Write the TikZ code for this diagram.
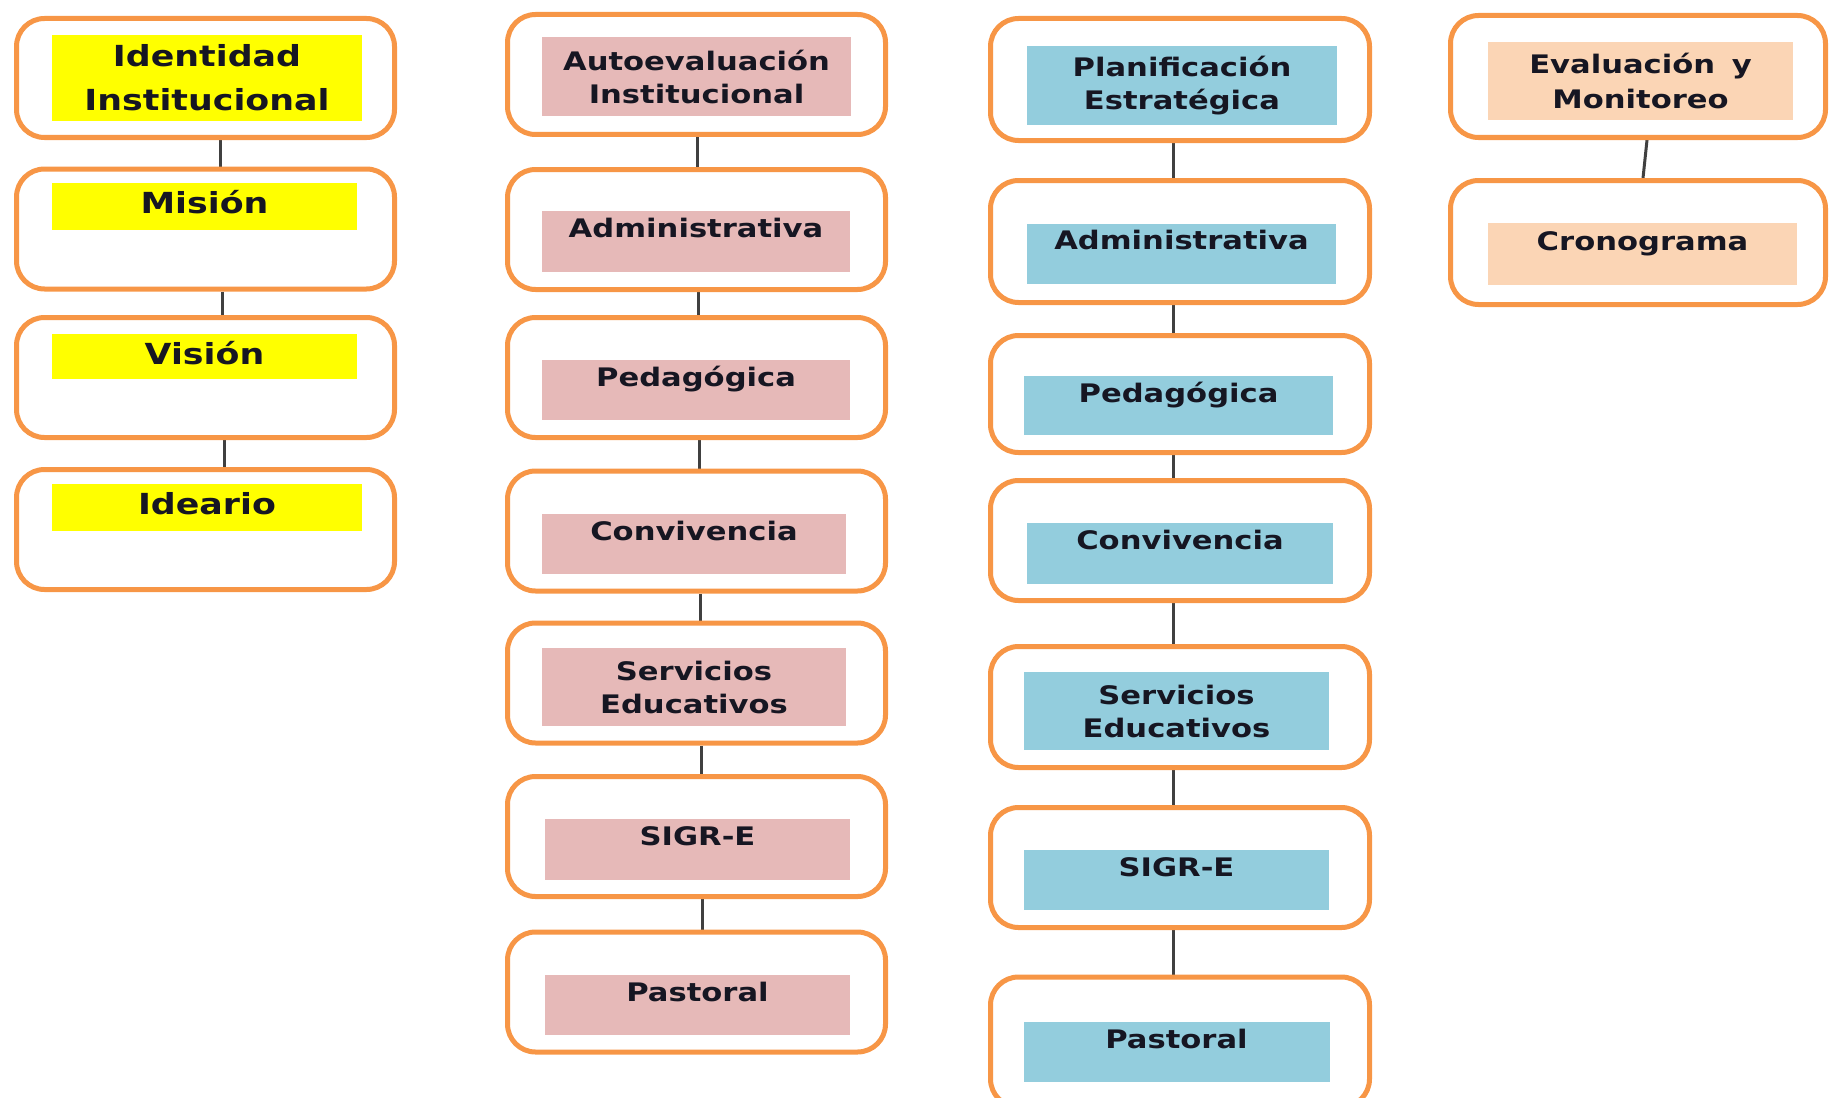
\documentclass[tikz,border=0pt]{standalone}
\usepackage{fontspec}
\newfontfamily\lbl{DejaVu Sans}[FakeStretch=1.2]
\usetikzlibrary{backgrounds}
\definecolor{orng}{HTML}{F79646}
\definecolor{ylw}{HTML}{FFFF00}
\definecolor{pnk}{HTML}{E6B9B8}
\definecolor{blu}{HTML}{93CDDD}
\definecolor{pch}{HTML}{FBD5B5}
\definecolor{ink}{HTML}{161622}
\definecolor{lnk}{HTML}{404040}
\tikzset{
  outer/.style={draw=orng, line width=5pt, rounded corners=28pt, fill=white, minimum height=120pt, inner sep=0pt},
  labbase/.style={inner xsep=0pt, inner ysep=0pt, text=ink},
  bigfont/.style={font=\lbl\bfseries\fontsize{29}{44}\selectfont},
  smallfont/.style={font=\lbl\bfseries\fontsize{25.5}{33}\selectfont},
  bigone/.style={labbase, bigfont, text height=30pt, text depth=17pt},
  bigtwo/.style={labbase, bigfont, align=center},
  one/.style={labbase, smallfont, text height=26pt, text depth=34pt},
  two/.style={labbase, smallfont, align=center, minimum height=79pt},
  conn/.style={draw=lnk, line width=3pt},
}
\begin{document}
\begin{tikzpicture}[x=1pt,y=-1pt]
\useasboundingbox (0,0) rectangle (1830,1097);

% ---------- Column 1 ----------
\node[outer, minimum width=378pt, minimum height=119pt] (a1) at (205.5,78) {};
\node[outer, minimum width=378pt] (a2) at (205.5,229) {};
\node[outer, minimum width=378pt] (a3) at (205.5,377.5) {};
\node[outer, minimum width=378pt] (a4) at (205.5,529.5) {};
\node[bigtwo, fill=ylw, minimum width=310pt, minimum height=86pt] (a1t) at (207,78) {Identidad\\Institucional};
\node[bigone, fill=ylw, minimum width=305pt] (a2t) at (204.5,206.5) {Misión};
\node[bigone, fill=ylw, minimum width=305pt, text depth=15pt] (a3t) at (204.5,356.5) {Visión};
\node[bigone, fill=ylw, minimum width=310pt] (a4t) at (207,507.5) {Ideario};

% ---------- Column 2 ----------
\node[outer, minimum width=378pt] (b1) at (696.5,74.5) {};
\node[outer, minimum width=378pt] (b2) at (696.5,229.5) {};
\node[outer, minimum width=378pt] (b3) at (696.5,377.5) {};
\node[outer, minimum width=378pt] (b4) at (696.5,531) {};
\node[outer, minimum width=378pt] (b5) at (696.5,683) {};
\node[outer, minimum width=378pt] (b6) at (696.5,836.5) {};
\node[outer, minimum width=378pt] (b7) at (696.5,992) {};
\node[two, fill=pnk, minimum width=309pt] (b1t) at (696.5,76.5) {Autoevaluación\\Institucional};
\node[one, fill=pnk, minimum width=308pt, text depth=35pt] (b2t) at (696,241.5) {Administrativa};
\node[one, fill=pnk, minimum width=308pt] (b3t) at (696,390) {Pedagógica};
\node[one, fill=pnk, minimum width=304pt] (b4t) at (694,544) {Convivencia};
\node[two, fill=pnk, minimum width=304pt, minimum height=78pt] (b5t) at (694,687) {Servicios\\Educativos};
\node[one, fill=pnk, minimum width=305pt, text depth=35pt] (b6t) at (697.5,849.5) {SIGR-E};
\node[one, fill=pnk, minimum width=305pt] (b7t) at (697.5,1005) {Pastoral};

% ---------- Column 3 ----------
\node[outer, minimum width=379pt, minimum height=122pt] (c1) at (1180,79.5) {};
\node[outer, minimum width=379pt, minimum height=122pt] (c2) at (1180,241.5) {};
\node[outer, minimum width=379pt, minimum height=117pt] (c3) at (1180,394) {};
\node[outer, minimum width=379pt] (c4) at (1180,540.5) {};
\node[outer, minimum width=379pt, minimum height=121pt] (c5) at (1180,707) {};
\node[outer, minimum width=379pt] (c6) at (1180,867.5) {};
\node[outer, minimum width=379pt, minimum height=130pt] (c7) at (1180,1042) {};
\node[two, fill=blu, minimum width=310pt] (c1t) at (1182,85.5) {Planificación\\Estratégica};
\node[one, fill=blu, minimum width=309pt, text height=25pt, text depth=35pt] (c2t) at (1181.5,254) {Administrativa};
\node[one, fill=blu, minimum width=309pt, text depth=33pt] (c3t) at (1178.5,405.5) {Pedagógica};
\node[one, fill=blu, minimum width=306pt, text depth=35pt] (c4t) at (1180,553.5) {Convivencia};
\node[two, fill=blu, minimum width=305pt, minimum height=78pt] (c5t) at (1176.5,711) {Servicios\\Educativos};
\node[one, fill=blu, minimum width=305pt] (c6t) at (1176.5,880) {SIGR-E};
\node[one, fill=blu, minimum width=306pt] (c7t) at (1176.5,1052) {Pastoral};

% ---------- Column 4 ----------
\node[outer, minimum width=375pt, minimum height=122pt] (d1) at (1638,76.5) {};
\node[outer, minimum width=375pt, minimum height=124pt] (d2) at (1638,242.5) {};
\node[two, fill=pch, minimum width=305pt, minimum height=78pt, font=\lbl\bfseries\fontsize{25.5}{35}\selectfont] (d1t) at (1640.5,81) {Evaluación\hspace{6pt} y\\Monitoreo};
\node[one, fill=pch, minimum width=309pt, text height=27pt, text depth=35pt] (d2t) at (1642.5,254) {Cronograma};

% ---------- Connectors ----------
\begin{scope}[on background layer]
\draw[conn] ([xshift=14.5pt]a1.south) -- ([xshift=14.5pt]a2.north);
\draw[conn] ([xshift=16.5pt]a2.south) -- ([xshift=16.5pt]a3.north);
\draw[conn] ([xshift=18.5pt]a3.south) -- ([xshift=18.5pt]a4.north);
\draw[conn] ([xshift=0.5pt]b1.south) -- ([xshift=0.5pt]b2.north);
\draw[conn] ([xshift=1.5pt]b2.south) -- ([xshift=1.5pt]b3.north);
\draw[conn] ([xshift=2.5pt]b3.south) -- ([xshift=2.5pt]b4.north);
\draw[conn] ([xshift=4pt]b4.south) -- ([xshift=4pt]b5.north);
\draw[conn] ([xshift=5pt]b5.south) -- ([xshift=5pt]b6.north);
\draw[conn] ([xshift=6pt]b6.south) -- ([xshift=6pt]b7.north);
\draw[conn] ([xshift=-7pt]c1.south) -- ([xshift=-7pt]c2.north);
\draw[conn] ([xshift=-7pt]c2.south) -- ([xshift=-7pt]c3.north);
\draw[conn] ([xshift=-7pt]c3.south) -- ([xshift=-7pt]c4.north);
\draw[conn] ([xshift=-7pt]c4.south) -- ([xshift=-7pt]c5.north);
\draw[conn] ([xshift=-7pt]c5.south) -- ([xshift=-7pt]c6.north);
\draw[conn] ([xshift=-7pt]c6.south) -- ([xshift=-7pt]c7.north);
\draw[conn] ([xshift=9pt]d1.south) -- ([xshift=5pt]d2.north);
\end{scope}
\end{tikzpicture}
\end{document}
